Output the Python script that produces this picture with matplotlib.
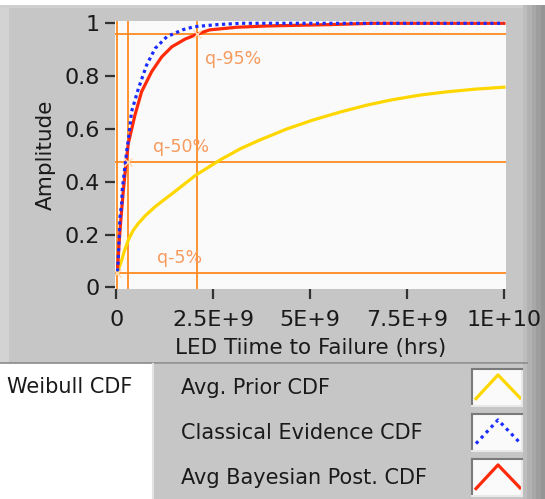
import matplotlib
matplotlib.use("Agg")
import matplotlib.pyplot as plt
from matplotlib.patches import Rectangle
from matplotlib.lines import Line2D

# ---------------------------------------------------------------------------
# data (x in 1e9 hours)
# ---------------------------------------------------------------------------
prior_x = [0.04, 0.07, 0.137, 0.2, 0.307, 0.43, 0.566, 0.75, 0.996, 1.25,
           1.45, 1.64, 2.05, 2.67, 3.2, 3.70, 4.4, 5.08, 5.8, 6.46, 7.1,
           7.83, 8.5, 9.21, 10.0]
prior_y = [0.053, 0.075, 0.103, 0.135, 0.179, 0.215, 0.242, 0.272, 0.305,
           0.334, 0.356, 0.378, 0.425, 0.482, 0.525, 0.558, 0.60, 0.634,
           0.665, 0.690, 0.71, 0.728, 0.74, 0.750, 0.758]

classical_x = [0.03, 0.05, 0.067, 0.093, 0.137, 0.15, 0.20, 0.27, 0.31, 0.39,
               0.57, 0.78, 1.0, 1.3, 1.7, 2.0, 2.6, 3.2, 10.0]
classical_y = [0.06, 0.116, 0.179, 0.267, 0.318, 0.368, 0.432, 0.52, 0.56,
               0.665, 0.754, 0.842, 0.905, 0.949, 0.975, 0.987, 0.995, 1.0, 1.0]

bayes_x = [0.033, 0.075, 0.12, 0.18, 0.24, 0.307, 0.48, 0.65, 0.91, 1.17,
           1.43, 1.77, 2.07, 2.4, 3.1, 3.9, 5.5, 6.6, 10.0]
bayes_y = [0.078, 0.179, 0.267, 0.368, 0.457, 0.545, 0.653, 0.741, 0.817,
           0.873, 0.911, 0.94, 0.958, 0.975, 0.985, 0.99, 0.995, 1.0, 1.0]

cursor_x = [0.015, 0.30, 2.07]
cursor_y = [0.053, 0.476, 0.958]
cursor_names = ["q-5%", "q-50%", "q-95%"]
cursor_label_x = [1.05, 0.94, 2.29]
cursor_label_y = [0.11, 0.533, 0.865]

x_ticks = [0, 2.5, 5, 7.5, 10]
x_tick_labels = ["0", "2.5E+9", "5E+9", "7.5E+9", "1E+10"]
y_ticks = [0, 0.2, 0.4, 0.6, 0.8, 1]
y_tick_labels = ["0", "0.2", "0.4", "0.6", "0.8", "1"]

legend_names = ["Avg. Prior CDF", "Classical Evidence CDF", "Avg Bayesian Post. CDF"]

YELLOW = "#ffd700"
BLUE = "#1a2cff"
RED = "#ff2a0a"
ORANGE = "#ff8a1e"
ORANGE_TXT = "#f79a5e"
PANEL = "#c6c6c6"
TXT = "#1a1a1a"

W, H = 545, 499
plt.rcParams["font.family"] = "DejaVu Sans"

fig = plt.figure(figsize=(W / 100, H / 100), dpi=100)
fig.patch.set_facecolor("white")


def box(x0, y0, x1, y1, color, z=0):
    # rectangle given in pixel coords (origin top-left)
    r = Rectangle((x0 / W, 1 - y1 / H), (x1 - x0) / W, (y1 - y0) / H,
                  transform=fig.transFigure, facecolor=color, edgecolor="none",
                  zorder=z)
    fig.add_artist(r)


def hline(x0, x1, y, color, lw=1.0):
    fig.add_artist(Line2D([x0 / W, x1 / W], [1 - y / H, 1 - y / H],
                          transform=fig.transFigure, color=color, lw=lw))


def vline(x, y0, y1, color, lw=1.0):
    fig.add_artist(Line2D([x / W, x / W], [1 - y0 / H, 1 - y1 / H],
                          transform=fig.transFigure, color=color, lw=lw))


# graph panel
box(0, 5, 527, 363, PANEL, -5)
box(0, 5, 9, 363, "#d3d3d3", -4)
box(0, 5, 527, 8, "#cfcfcf", -4)
hline(0, 527, 363, "#8a8a8a", 1.2)
# legend panel
box(153, 364, 527, 499, PANEL, -5)
vline(153, 364, 499, "#e2e2e2", 1.5)
# dark right edge
for i, c in enumerate(["#bdbdbd", "#b2b2b2", "#a8a8a8", "#9e9e9e", "#959595"]):
    box(523 + i * 4.4, 5, 523 + (i + 1) * 4.4, 499, c, -4)

# ---------------------------------------------------------------------------
# plot area
# ---------------------------------------------------------------------------
ax = fig.add_axes([114.7 / W, 1 - 289 / H, (505.7 - 114.7) / W, (289 - 21) / H])
ax.set_facecolor("#fafafa")
ax.set_xlim(-0.044, 10.044)
ax.set_ylim(-0.0064, 1.0087)
for s in ax.spines.values():
    s.set_visible(False)

for xv in cursor_x:
    ax.axvline(xv, color=ORANGE, lw=1.3, zorder=2)
for yv in cursor_y:
    ax.axhline(yv, color=ORANGE, lw=1.3, zorder=2)

ax.plot(prior_x, prior_y, color=YELLOW, lw=2.3, zorder=3)
ax.plot(bayes_x, bayes_y, color=RED, lw=2.3, zorder=4)
ax.plot(classical_x, classical_y, color=BLUE, lw=2.3, ls=(0, (1, 1.1)), zorder=5)

ax.plot(cursor_x, cursor_y, ls="none", marker="x", ms=6, mew=1.0,
        color="#ffd9b0", zorder=6)
for name, tx, ty in zip(cursor_names, cursor_label_x, cursor_label_y):
    ax.text(tx, ty, name, color=ORANGE_TXT, fontsize=12.5, va="center",
            ha="left", zorder=7)

ax.set_xticks(x_ticks)
ax.set_xticklabels(x_tick_labels)
ax.set_yticks(y_ticks)
ax.set_yticklabels(y_tick_labels)
ax.tick_params(axis="both", direction="out", length=7, width=1.6,
               color="#333333", labelsize=16, labelcolor=TXT, pad=4)
ax.tick_params(axis="x", pad=8)

ax.set_xlabel("LED Tiime to Failure (hrs)", fontsize=15.5, color=TXT, labelpad=6)
ax.set_ylabel("Amplitude", fontsize=15.5, color=TXT, labelpad=6)

# ---------------------------------------------------------------------------
# legend
# ---------------------------------------------------------------------------
fig.text(7 / W, 1 - 387 / H, "Weibull CDF", fontsize=15, color=TXT,
         va="center", ha="left")

styles = [dict(color=YELLOW, lw=2.3),
          dict(color=BLUE, lw=2.3, ls=(0, (1, 1.3))),
          dict(color=RED, lw=2.3)]
row_y = [388, 433, 478]
sw_top = [369, 414, 459]
for name, st, ry, top in zip(legend_names, styles, row_y, sw_top):
    fig.text(181 / W, 1 - ry / H, name, fontsize=15, color=TXT,
             va="center", ha="left")
    sax = fig.add_axes([472 / W, 1 - (top + 37) / H, 50 / W, 37 / H])
    sax.set_facecolor("#fafafa")
    sax.set_xlim(0, 1)
    sax.set_ylim(0, 1)
    sax.set_xticks([])
    sax.set_yticks([])
    for side, s in sax.spines.items():
        s.set_color("#7a7a7a" if side in ("top", "left") else "#e8e8e8")
        s.set_linewidth(1.5)
    sax.plot([0.08, 0.52, 0.96], [0.2, 0.84, 0.22], **st)

fig.savefig("out.png", dpi=100)
